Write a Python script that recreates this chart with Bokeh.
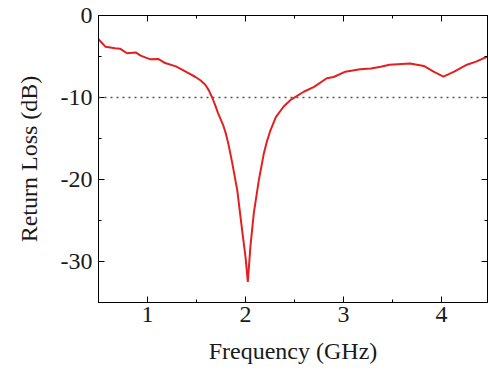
from bokeh.plotting import figure
from bokeh.models import Range1d, FixedTicker, Span, LinearAxis, PrintfTickFormatter
from bokeh.embed import file_html
from bokeh.resources import INLINE

freq = [0.50, 0.57, 0.67, 0.72, 0.79, 0.88, 0.93, 1.03, 1.11, 1.18, 1.29, 1.39,
        1.49, 1.54, 1.59, 1.625, 1.66, 1.69, 1.72, 1.77, 1.80, 1.83, 1.865, 1.916,
        1.966, 2.00, 2.024, 2.05, 2.085, 2.136, 2.186, 2.22, 2.255, 2.31, 2.39,
        2.46, 2.595, 2.70, 2.83, 2.90, 3.02, 3.17, 3.28, 3.38, 3.47, 3.68, 3.82,
        3.92, 4.02, 4.13, 4.26, 4.36, 4.47]
return_loss = [-2.9, -3.8, -4.0, -4.05, -4.6, -4.5, -4.9, -5.35, -5.3, -5.8, -6.2,
               -6.85, -7.5, -7.9, -8.45, -9.1, -10.0, -10.9, -11.9, -13.3, -14.4,
               -15.9, -18.0, -21.3, -26.2, -29.4, -32.5, -28.2, -24.1, -20.1,
               -16.9, -15.3, -14.0, -12.4, -11.1, -10.3, -9.3, -8.7, -7.65, -7.5,
               -6.85, -6.55, -6.45, -6.25, -6.0, -5.85, -6.15, -6.85, -7.45,
               -6.85, -6.0, -5.6, -5.0]
x_ticks = [1, 2, 3, 4]
x_minor = [0.5, 1.5, 2.5, 3.5, 4.5]
y_ticks = [-30, -20, -10, 0]
y_minor = [-35, -25, -15, -5]
threshold = -10

FONT = "Liberation Serif"

p = figure(width=488, height=376, output_backend="svg", toolbar_location=None,
           x_range=Range1d(0.5, 4.47), y_range=Range1d(-35, 0),
           min_border_left=98, min_border_right=1, min_border_top=15,
           min_border_bottom=74)
p.grid.visible = False
p.outline_line_color = "black"
p.outline_line_width = 1
p.background_fill_color = "white"
p.border_fill_color = "white"

p.add_layout(Span(location=threshold, dimension="width", line_color="#555555",
                  line_dash="2 4", line_width=1.5))
p.line(freq, return_loss, line_color="#e3201f", line_width=2)

bottom = p.below[0]
left = p.left[0]
bottom.axis_label = "Frequency (GHz)"
left.axis_label = "Return Loss (dB)"

top = LinearAxis(major_label_overrides={t: "" for t in x_ticks})
right = LinearAxis(major_label_overrides={t: "" for t in y_ticks})
p.add_layout(top, "above")
p.add_layout(right, "right")

for ax in (bottom, top):
    ax.ticker = FixedTicker(ticks=x_ticks, minor_ticks=x_minor)
for ax in (left, right):
    ax.ticker = FixedTicker(ticks=y_ticks, minor_ticks=y_minor)

for ax in (bottom, left, top, right):
    ax.major_tick_in = 6
    ax.major_tick_out = 0
    ax.minor_tick_in = 3
    ax.minor_tick_out = 0
    ax.axis_line_color = "black"
    ax.major_tick_line_color = "black"
    ax.minor_tick_line_color = "black"
    ax.major_label_text_font = FONT
    ax.major_label_text_color = "#1a1a1a"
    ax.axis_label_text_font = FONT
    ax.axis_label_text_font_style = "normal"
    ax.axis_label_text_color = "#1a1a1a"
    ax.axis_label_text_font_size = "24px"
    ax.major_label_text_font_size = "24px"

top.major_label_standoff = 0
right.major_label_standoff = 0
bottom.formatter = PrintfTickFormatter(format="%d")
left.formatter = PrintfTickFormatter(format="%d")
bottom.major_label_standoff = 4
left.major_label_standoff = 6
bottom.axis_label_standoff = 13
left.axis_label_standoff = 16

open("out.html", "w").write(file_html(p, INLINE))
